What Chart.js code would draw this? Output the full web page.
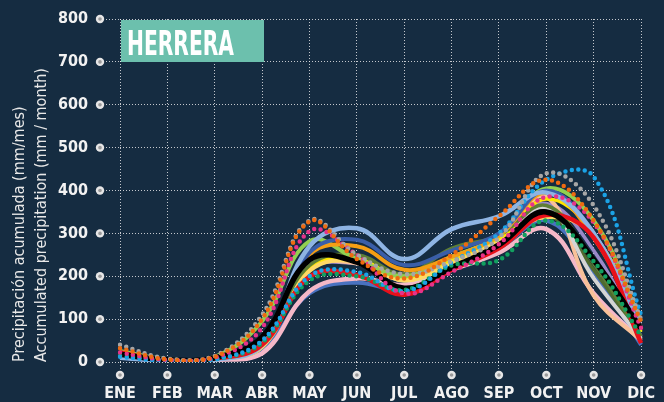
<!DOCTYPE html>
<html>
<head>
<meta charset="utf-8">
<script src="https://cdn.jsdelivr.net/npm/chart.js@4.4.1/dist/chart.umd.min.js"></script>
<style>
  html, body { margin: 0; padding: 0; background: #152c41; }
  canvas { display: block; }
</style>
</head>
<body>
<canvas id="chart" width="664" height="402"></canvas>
<script>
// Months (x axis)
const months = ['ENE', 'FEB', 'MAR', 'ABR', 'MAY', 'JUN', 'JUL', 'AGO', 'SEP', 'OCT', 'NOV', 'DIC'];

// Accumulated monthly precipitation, one array per year/series (mm)
const grayDotted    = [40, 8, 14, 110, 330, 250, 205, 235, 290, 440, 365, 100];
const orangeDotted  = [32, 6, 12, 100, 328, 240, 195, 250, 340, 425, 330, 95];
const magentaDotted = [22, 5, 10, 80, 305, 250, 160, 210, 275, 385, 325, 80];
const blueDotted    = [12, 3, 6, 50, 200, 210, 165, 232, 300, 425, 432, 110];
const greenDotted   = [15, 4, 6, 45, 190, 200, 168, 225, 238, 330, 235, 60];
const lightBlue     = [10, 3, 5, 40, 270, 312, 240, 310, 340, 395, 300, 75];
const darkBlue      = [12, 3, 6, 45, 255, 285, 226, 260, 300, 400, 300, 80];
const orange        = [12, 3, 6, 45, 250, 270, 215, 245, 295, 395, 290, 80];
const lightGreen    = [26, 6, 12, 95, 282, 240, 200, 245, 295, 405, 330, 95];
const olive         = [14, 4, 8, 55, 225, 250, 205, 265, 295, 365, 230, 60];
const average       = [18, 5, 10, 58, 238, 233, 172, 220, 273, 350, 238, 78];
const red           = [22, 4, 8, 40, 199, 203, 157, 215, 265, 343, 290, 44];
const yellow        = [12, 3, 6, 35, 212, 235, 190, 230, 280, 338, 295, 80];
const pink          = [12, 3, 5, 20, 165, 195, 180, 215, 255, 310, 160, 50];
const lightGray     = [14, 4, 8, 50, 230, 238, 190, 225, 275, 360, 195, 55];
const peach         = [12, 3, 6, 40, 220, 230, 200, 240, 290, 385, 155, 50];
const steelBlue     = [10, 3, 5, 30, 160, 185, 168, 215, 265, 330, 210, 40];
const purple        = [12, 3, 6, 40, 215, 230, 205, 245, 290, 370, 260, 60];
const brightYellow  = [12, 3, 6, 40, 220, 240, 195, 235, 285, 380, 300, 70];
const darkGreen     = [12, 3, 6, 45, 230, 245, 200, 240, 285, 345, 215, 55];

const yTicks = [0, 100, 200, 300, 400, 500, 600, 700, 800];

const FONT = '"Liberation Sans Narrow", "DejaVu Sans Condensed", sans-serif';
const GRID = 'rgba(240,240,240,0.8)';

function dotted(data, color) {
    return { data, borderColor: color, borderWidth: 4.5, borderDash: [0, 6.5], borderCapStyle: 'round' };
}
function solid(data, color, width) {
    return { data, borderColor: color, borderWidth: width || 3.5 };
}

// first entry is drawn on top
const datasets = [
    dotted(orangeDotted, '#ee6a10'),
    dotted(grayDotted, '#a6a6a6'),
    dotted(magentaDotted, '#e6338a'),
    dotted(blueDotted, '#1ba3e6'),
    dotted(greenDotted, '#12a060'),
    solid(average, '#000000', 5.5),
    solid(red, '#e8101a', 4.5),
    solid(lightBlue, '#8eb4e3', 4.5),
    solid(darkBlue, '#3a5ea8', 4),
    solid(orange, '#f59e14', 4),
    solid(lightGreen, '#92d050', 4),
    solid(olive, '#5e7e35'),
    solid(yellow, '#ffd965', 4),
    solid(brightYellow, '#ffe600'),
    solid(lightGray, '#d4d4d4', 4),
    solid(peach, '#f9c199', 4),
    solid(purple, '#9a88c8'),
    solid(darkGreen, '#4f6a2e'),
    solid(pink, '#f5b8c8', 4.5),
    solid(steelBlue, '#4a72c0', 4)
];

// title box and the round markers at tick ends
const decorations = {
    id: 'decorations',
    afterDatasetsDraw(chart) {
        const { ctx, chartArea, scales } = chart;
        ctx.save();
        // station name
        ctx.fillStyle = '#6cc0ad';
        ctx.fillRect(chartArea.left + 1, chartArea.top + 1, 143, 42);
        ctx.font = 'bold 33px ' + FONT;
        ctx.fillStyle = '#ffffff';
        ctx.textBaseline = 'alphabetic';
        const w = ctx.measureText('HERRERA').width;
        ctx.translate(chartArea.left + 7, chartArea.top + 36);
        ctx.scale(107 / w, 1);
        ctx.fillText('HERRERA', 0, 0);
        ctx.restore();

        ctx.save();
        const dot = (x, y) => {
            ctx.beginPath();
            ctx.arc(x, y, 4.2, 0, Math.PI * 2);
            ctx.fillStyle = '#e6e6e6';
            ctx.fill();
            ctx.beginPath();
            ctx.arc(x, y, 1.8, 0, Math.PI * 2);
            ctx.fillStyle = '#9a9a9a';
            ctx.fill();
        };
        scales.y.ticks.forEach((t, i) => dot(chartArea.left - 20, scales.y.getPixelForTick(i)));
        scales.x.ticks.forEach((t, i) => dot(scales.x.getPixelForTick(i), chartArea.bottom + 13));
        ctx.restore();
    }
};

new Chart(document.getElementById('chart'), {
    type: 'line',
    data: { labels: months, datasets },
    options: {
        responsive: false,
        animation: false,
        layout: { padding: { top: 19, right: 16, left: 0, bottom: 0 } },
        elements: { line: { tension: 0.4, fill: false }, point: { radius: 0 } },
        plugins: { legend: { display: false }, tooltip: { enabled: false } },
        scales: {
            x: {
                offset: false,
                border: { display: false, dash: [1, 2] },
                grid: { color: GRID, lineWidth: 1, tickLength: 13, tickBorderDash: [1, 2], tickColor: GRID },
                ticks: { color: '#f2f2f2', padding: 9, maxRotation: 0, font: { family: FONT, size: 16, weight: 'bold' } },
                afterFit(scale) { scale.height = 40; }
            },
            y: {
                min: 0, max: 800,
                border: { display: false, dash: [1, 2] },
                afterBuildTicks(scale) { scale.ticks = yTicks.map(v => ({ value: v })); },
                grid: { color: GRID, lineWidth: 1, tickLength: 20, tickBorderDash: [1, 2], tickColor: GRID },
                ticks: { color: '#f2f2f2', padding: 12, font: { family: FONT, size: 16, weight: 'bold' } },
                title: {
                    display: true,
                    text: ['Precipitación acumulada (mm/mes)', 'Accumulated precipitation (mm / month)'],
                    align: 'start',
                    color: '#e8e8e8',
                    padding: { top: 9, bottom: 0 },
                    font: { family: FONT, size: 16, lineHeight: 1.38 }
                },
                afterFit(scale) {
                    scale.width = 120;
                    scale.paddingTop = 0;
                    scale.paddingBottom = 0;
                }
            }
        }
    },
    plugins: [decorations]
});
</script>
</body>
</html>
